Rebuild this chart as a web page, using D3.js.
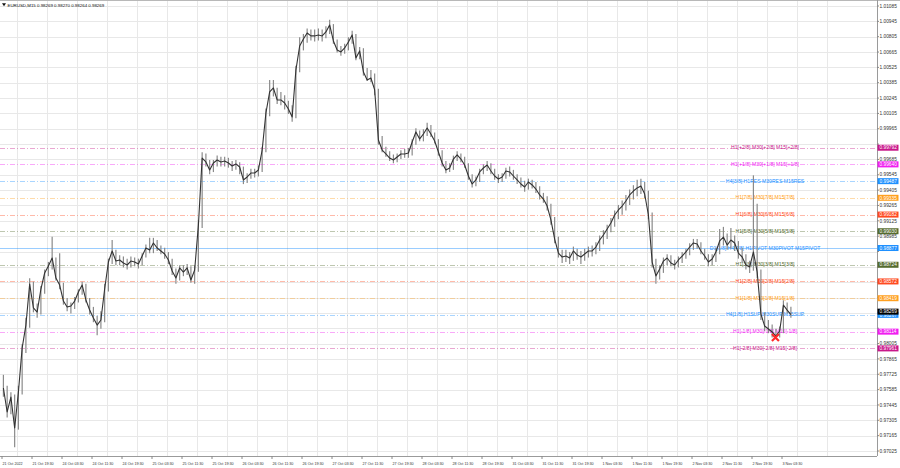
<!DOCTYPE html>
<html><head><meta charset="utf-8">
<script src="https://cdn.jsdelivr.net/npm/d3@7"></script>
<style>body{margin:0;background:#fff;}svg{display:block;font-family:"Liberation Sans",Arial,sans-serif;}</style>
</head><body><svg id="c" width="900" height="468"></svg>
<script>
const symbol = "EURUSD,M15";
const quote = ["0.98269", "0.98270", "0.98264", "0.98269"];
const timeLabels = ["21 Oct 2022","21 Oct 19:30","24 Oct 03:30","24 Oct 11:30","24 Oct 19:30","25 Oct 03:30","25 Oct 11:30","25 Oct 19:30","26 Oct 03:30","26 Oct 11:30","26 Oct 19:30","27 Oct 03:30","27 Oct 11:30","27 Oct 19:30","28 Oct 03:30","28 Oct 11:30","28 Oct 19:30","31 Oct 03:30","31 Oct 11:30","31 Oct 19:30","1 Nov 03:30","1 Nov 11:30","1 Nov 19:30","2 Nov 03:30","2 Nov 11:30","2 Nov 19:30","3 Nov 03:30"];
const priceTicks = ["0.97025","0.97165","0.97305","0.97445","0.97585","0.97725","0.97865","0.98005","0.98145","0.98285","0.98425","0.98565","0.98705","0.98845","0.98985","0.99125","0.99265","0.99405","0.99545","0.99685","0.99825","0.99965","1.00105","1.00245","1.00385","1.00525","1.00665","1.00805","1.00945","1.01085"];
// hourly samples (4 x M15 bars each)
const closes = [
0.97600,0.97381,0.97517,0.97235,0.97563,0.97965,0.98174,0.98549,0.98330,0.98293,
0.98503,0.98649,0.98713,0.98786,0.98603,0.98539,0.98393,0.98339,0.98348,0.98393,
0.98476,0.98539,0.98403,0.98311,0.98238,0.98174,0.98220,0.98503,0.98749,0.98850,
0.98758,0.98768,0.98740,0.98722,0.98758,0.98749,0.98731,0.98804,0.98877,0.98859,
0.98923,0.98877,0.98850,0.98822,0.98768,0.98667,0.98603,0.98695,0.98658,0.98695,
0.98585,0.98676,0.99087,0.99698,0.99662,0.99589,0.99653,0.99680,0.99662,0.99671,
0.99653,0.99625,0.99644,0.99616,0.99498,0.99525,0.99561,0.99561,0.99589,0.99771,
1.00109,1.00301,1.00337,1.00228,1.00228,1.00200,1.00145,1.00072,1.00501,1.00720,
1.00784,1.00839,1.00812,1.00812,1.00821,1.00812,1.00848,1.00912,1.00766,1.00684,
1.00666,1.00702,1.00757,1.00821,1.00611,1.00675,1.00483,1.00410,1.00428,1.00319,
0.99863,0.99771,0.99735,0.99698,0.99680,0.99707,0.99735,0.99735,0.99744,0.99844,
0.99936,0.99872,0.99917,0.99972,0.99917,0.99853,0.99753,0.99653,0.99589,0.99607,
0.99689,0.99726,0.99689,0.99634,0.99534,0.99461,0.99498,0.99571,0.99607,0.99634,
0.99580,0.99534,0.99507,0.99525,0.99580,0.99571,0.99534,0.99498,0.99461,0.99434,
0.99479,0.99452,0.99415,0.99361,0.99324,0.99260,0.99133,0.98959,0.98831,0.98795,
0.98804,0.98786,0.98850,0.98813,0.98795,0.98822,0.98850,0.98850,0.98886,0.98950,
0.98996,0.99050,0.99105,0.99178,0.99224,0.99260,0.99306,0.99361,0.99397,0.99425,
0.99443,0.99370,0.99178,0.98749,0.98622,0.98685,0.98758,0.98786,0.98740,0.98722,
0.98768,0.98804,0.98841,0.98886,0.98923,0.98914,0.98850,0.98804,0.98749,0.98777,
0.98841,0.98941,0.98977,0.98904,0.98950,0.98923,0.98831,0.98795,0.98722,0.98704,
0.98841,0.98658,0.98275,0.98165,0.98138,0.98111,0.98074,0.98120,0.98357,0.98311,
0.98269];
const highs = [
.9772,.9762,.9756,.9754,.9762,.9800,.9824,.9860,.9857,.9837,
.9853,.9868,.9875,.9898,.9879,.9883,.9856,.9842,.9838,.9843,
.9850,.9857,.9855,.9842,.9834,.9826,.9830,.9855,.9878,.9895,
.9886,.9881,.9880,.9878,.9880,.9879,.9878,.9883,.9891,.9897,
.9897,.9895,.9890,.9888,.9884,.9878,.9869,.9872,.9872,.9873,
.9871,.9872,.9913,.9975,.9974,.9968,.9968,.9972,.9971,.9971,
.9970,.9967,.9968,.9966,.9962,.9956,.9960,.9960,.9963,.9980,
1.0015,1.0041,1.0041,1.0034,1.0030,1.0027,1.0022,1.0018,1.0054,1.0080,
1.0083,1.0088,1.0087,1.0087,1.0088,1.0087,1.0090,1.0096,1.0092,1.0078,
1.0072,1.0074,1.0080,1.0086,1.0083,1.0071,1.0070,1.0052,1.0050,1.0047,
1.0033,.9990,.9980,.9976,.9973,.9974,.9977,.9978,.9979,.9987,
.9997,.9995,.9996,1.0002,1.0000,.9993,.9987,.9977,.9967,.9965,
.9972,.9976,.9974,.9971,.9965,.9955,.9953,.9960,.9964,.9967,
.9965,.9960,.9955,.9956,.9961,.9962,.9959,.9955,.9952,.9949,
.9951,.9950,.9948,.9944,.9938,.9935,.9928,.9916,.9898,.9886,
.9886,.9884,.9889,.9887,.9885,.9887,.9889,.9890,.9893,.9899,
.9904,.9909,.9915,.9922,.9927,.9931,.9936,.9941,.9945,.9950,
.9951,.9948,.9940,.9920,.9878,.9872,.9879,.9882,.9881,.9877,
.9880,.9884,.9887,.9892,.9896,.9896,.9893,.9887,.9882,.9882,
.9888,.9905,.9907,.9901,.9906,.9899,.9894,.9888,.9882,.9876,
.9954,.9928,.9868,.9829,.9822,.9818,.9814,.9816,.9840,.9838,
.9834];
const lows = [
.9752,.9733,.9736,.9706,.9722,.9754,.9792,.9815,.9829,.9824,
.9827,.9846,.9862,.9868,.9858,.9850,.9836,.9830,.9828,.9832,
.9838,.9845,.9838,.9827,.9820,.9808,.9814,.9820,.9848,.9873,
.9872,.9872,.9870,.9868,.9870,.9871,.9869,.9872,.9879,.9883,
.9883,.9885,.9882,.9878,.9873,.9863,.9855,.9858,.9862,.9863,
.9856,.9855,.9866,.9906,.9962,.9955,.9957,.9962,.9962,.9962,
.9961,.9958,.9959,.9955,.9946,.9947,.9951,.9952,.9953,.9957,
.9975,1.0008,1.0026,1.0019,1.0018,1.0014,1.0010,1.0003,1.0006,1.0048,
1.0068,1.0075,1.0077,1.0076,1.0077,1.0076,1.0079,1.0083,1.0074,1.0066,
1.0063,1.0065,1.0068,1.0074,1.0059,1.0060,1.0045,1.0040,1.0039,1.0027,
.9982,.9975,.9971,.9967,.9965,.9966,.9969,.9970,.9970,.9972,
.9982,.9985,.9985,.9990,.9989,.9983,.9972,.9962,.9956,.9957,
.9959,.9967,.9966,.9961,.9950,.9943,.9944,.9948,.9955,.9958,
.9955,.9950,.9947,.9948,.9951,.9953,.9950,.9946,.9943,.9939,
.9941,.9942,.9938,.9932,.9929,.9922,.9909,.9892,.9879,.9874,
.9875,.9873,.9876,.9877,.9873,.9876,.9879,.9880,.9882,.9885,
.9891,.9896,.9902,.9907,.9914,.9918,.9922,.9927,.9932,.9935,
.9937,.9933,.9914,.9870,.9855,.9859,.9865,.9872,.9871,.9868,
.9870,.9874,.9878,.9881,.9886,.9887,.9882,.9877,.9871,.9872,
.9875,.9882,.9890,.9886,.9887,.9885,.9878,.9874,.9868,.9865,
.9867,.9860,.9822,.9812,.9810,.9806,.9806,.9806,.9810,.9828,
.9824];
const levelPrices = [0.99792,0.99640,0.99487,0.99335,0.99182,0.99030,0.98877,0.98724,0.98572,0.98419,0.98267,0.98114,0.97961];
const levelNames = ["H1[+2/8] M30[+2/8] M15[+2/8]","H1[+1/8] M30[+1/8] M15[+1/8]","H4[3/8] H1RES M30RES M15RES","H1[7/8] M30[7/8] M15[7/8]","H1[6/8] M30[6/8] M15[6/8]","H1[5/8] M30[5/8] M15[5/8]","D1[1/8] H4[4/8] H1PIVOT M30PIVOT M15PIVOT","H1[3/8] M30[3/8] M15[3/8]","H1[2/8] M30[2/8] M15[2/8]","H1[1/8] M30[1/8] M15[1/8]","H4[1/8] H1SUP M30SUP M15SUP","H1[-1/8] M30[-1/8] M15[-1/8]","H1[-2/8] M30[-2/8] M15[-2/8]"];
const levelColors = ["#c8178a","#f01ef0","#1e90ff","#ffa020","#ff4a20","#556b2f","#1e90ff","#556b2f","#ff4a20","#ffa020","#1e90ff","#f01ef0","#c8178a"];
const levelSolid = [false,false,false,false,false,false,true,false,false,false,false,false,false];
const lastPrice = 0.98269;
const markerBar = [825];
const markerPrice = [0.98060];

const svg = d3.select("#c");
const W = 900, H = 468, plotR = 877, plotB = 456;
const x = d3.scaleLinear().domain([0, 32]).range([2, 32]);            // M15 bar index -> px
const y = d3.scaleLinear().domain([0.97025, 1.01085]).range([451, 6]);

// grid
const g = svg.append("g");
g.selectAll("line.h").data(priceTicks).join("line")
  .attr("x1", 0).attr("x2", plotR).attr("y1", d => Math.round(y(+d)) + 0.5).attr("y2", d => Math.round(y(+d)) + 0.5)
  .attr("stroke", "#e8e8e8").attr("stroke-width", 1);
g.selectAll("line.v").data(d3.range(28)).join("line")
  .attr("y1", 1).attr("y2", plotB).attr("x1", d => Math.round(x(16 + 32 * d)) + 0.5).attr("x2", d => Math.round(x(16 + 32 * d)) + 0.5)
  .attr("stroke", "#e8e8e8").attr("stroke-width", 1);

// level lines
const lv = svg.append("g");
lv.selectAll("line").data(levelPrices).join("line")
  .attr("x1", 0).attr("x2", plotR)
  .attr("y1", d => Math.round(y(d)) + 0.5).attr("y2", d => Math.round(y(d)) + 0.5)
  .attr("stroke", (d, i) => levelColors[i])
  .attr("stroke-opacity", (d, i) => levelSolid[i] ? 0.45 : 0.38)
  .attr("stroke-width", 1)
  .attr("stroke-dasharray", (d, i) => levelSolid[i] ? null : "5,2,1,2");

// price series
const bx = i => x(i * 4 + 1.5);
const pg = svg.append("g");
pg.selectAll("line").data(closes).join("line")
  .attr("x1", (d, i) => bx(i)).attr("x2", (d, i) => bx(i))
  .attr("y1", (d, i) => y(highs[i])).attr("y2", (d, i) => y(lows[i]))
  .attr("stroke", "#8a8a8a").attr("stroke-width", 1.2);
pg.append("path").datum(closes)
  .attr("d", d3.line().x((d, i) => bx(i)).y(d => y(d)))
  .attr("fill", "none").attr("stroke", "#333").attr("stroke-width", 1.1).attr("stroke-linejoin", "round");

// level labels
lv.selectAll("text").data(levelPrices).join("text")
  .attr("x", 765).attr("y", d => y(d) + 1.6)
  .attr("text-anchor", "middle").attr("font-size", 5.1)
  .attr("fill", (d, i) => levelColors[i]).text((d, i) => levelNames[i]);

// marker
const mk = svg.append("g").selectAll("g").data(markerBar).join("g")
  .attr("transform", (d, i) => `translate(${x(d)},${y(markerPrice[i])})`);
mk.append("path").attr("d", "M-3.5,-3.5L3.5,3.5M-3.5,3.5L3.5,-3.5")
  .attr("stroke", "#ff2a2a").attr("stroke-width", 2.2);

// frame
svg.append("line").attr("x1", 0).attr("x2", W).attr("y1", 0.5).attr("y2", 0.5).attr("stroke", "#b8b8b8");
svg.append("line").attr("x1", plotR + 0.5).attr("x2", plotR + 0.5).attr("y1", 0).attr("y2", plotB).attr("stroke", "#9a9a9a");
svg.append("line").attr("x1", 0).attr("x2", plotR).attr("y1", plotB + 0.5).attr("y2", plotB + 0.5).attr("stroke", "#9a9a9a");

// price axis (tick labels covered by a level box are hidden)
const boxes = levelPrices.concat([lastPrice]);
const visTicks = priceTicks.filter(t => boxes.every(b => Math.abs(y(+t) - y(b)) > 4.5));
const pa = svg.append("g");
pa.selectAll("line").data(priceTicks).join("line")
  .attr("x1", plotR).attr("x2", plotR + 2).attr("y1", d => y(+d)).attr("y2", d => y(+d)).attr("stroke", "#888");
pa.selectAll("text").data(visTicks).join("text")
  .attr("x", 879.5).attr("y", d => y(+d) + 1.7).attr("font-size", 4.8).attr("fill", "#333").text(d => d);

// level boxes on axis (current price box drawn last, nudged above the support box)
const lb = svg.append("g").selectAll("g").data(boxes).join("g")
  .attr("transform", (d, i) => `translate(${plotR + 0.5},${y(d) - (i === boxes.length - 1 ? 3 : 0)})`);
lb.append("rect").attr("x", 0).attr("y", -3).attr("width", 21).attr("height", 6)
  .attr("fill", (d, i) => i < levelColors.length ? levelColors[i] : "#000");
lb.append("text").attr("x", 2).attr("y", 1.7).attr("font-size", 4.8).attr("fill", "#fff")
  .text(d => d.toFixed(5));

// time axis
const ta = svg.append("g");
ta.selectAll("line").data(timeLabels).join("line")
  .attr("x1", (d, i) => x(i * 32)).attr("x2", (d, i) => x(i * 32))
  .attr("y1", plotB).attr("y2", plotB + 3).attr("stroke", "#888");
ta.selectAll("text").data(timeLabels).join("text")
  .attr("x", (d, i) => x(i * 32) + 0.5).attr("y", 464.5).attr("font-size", 3.7).attr("fill", "#333").text(d => d);

// header
svg.append("path").attr("d", "M2,3.2L6,3.2L4,6.2Z").attr("fill", "#111");
svg.append("text").attr("x", 7.5).attr("y", 6.6).attr("font-size", 4.4).attr("fill", "#111")
  .text(symbol + "  " + quote.join(" "));
</script></body></html>
